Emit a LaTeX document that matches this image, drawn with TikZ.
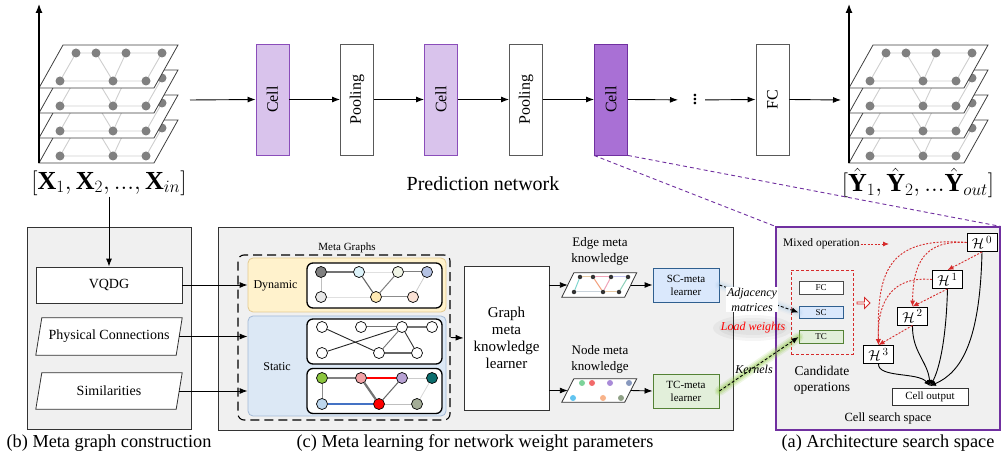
\documentclass[tikz,border=0pt]{standalone}
\usepackage{amsmath}
\usepackage{fontspec}
\setmainfont{Liberation Serif}
\usetikzlibrary{arrows.meta,shapes.arrows,calc}

\pgfdeclarelayer{panels}
\pgfdeclarelayer{frames}
\pgfsetlayers{panels,frames,main}

\definecolor{cellfill}{HTML}{D9C3EC}
\definecolor{cellline}{HTML}{8A4DBA}
\definecolor{cellhot}{HTML}{A970D5}
\definecolor{linkpurple}{HTML}{7030A0}
\definecolor{panelgray}{HTML}{F0F0F0}
\definecolor{dynfill}{HTML}{FFF2CC}
\definecolor{dynline}{HTML}{E3C98E}
\definecolor{statfill}{HTML}{DCE8F5}
\definecolor{statline}{HTML}{A3B9D6}
\definecolor{scfill}{HTML}{DAE8FC}
\definecolor{scline}{HTML}{2F5F8F}
\definecolor{tcfill}{HTML}{E2EFDA}
\definecolor{tcline}{HTML}{548235}
\definecolor{opred}{HTML}{D62A2A}
\definecolor{planenode}{HTML}{808080}
\definecolor{planeedge}{HTML}{CFCFCF}
% node colours of the meta graphs
\definecolor{nA}{HTML}{7F7F7F}
\definecolor{nB}{HTML}{DDF3FA}
\definecolor{nC}{HTML}{F1F5E6}
\definecolor{nD}{HTML}{B4C2E4}
\definecolor{nE}{HTML}{E8E8E8}
\definecolor{nF}{HTML}{FFE9B3}
\definecolor{nG}{HTML}{FBE2D5}
\definecolor{sA}{HTML}{8CC63F}
\definecolor{sB}{HTML}{F2A2A6}
\definecolor{sC}{HTML}{B8A2D4}
\definecolor{sD}{HTML}{0B6E6E}
\definecolor{sE}{HTML}{BDD7EE}
\definecolor{sF}{HTML}{FF0000}
\definecolor{sG}{HTML}{A4AD97}
\definecolor{blueedge}{HTML}{4472C4}
% colours of the knowledge sketches
\definecolor{kTan}{HTML}{E6C7A1}
\definecolor{kPink}{HTML}{F0A3B8}
\definecolor{kLav}{HTML}{C3C3EE}
\definecolor{kCyan}{HTML}{7DD5CF}
\definecolor{kGrey}{HTML}{C9D3DB}
\definecolor{kOrange}{HTML}{F3A27F}
\definecolor{kTeal}{HTML}{8ACFB8}
\definecolor{dGreen}{HTML}{7DD39A}
\definecolor{dRed}{HTML}{F26A6A}
\definecolor{dPurple}{HTML}{A98BD8}
\definecolor{dSlate}{HTML}{8899BE}
\definecolor{dCyan}{HTML}{62C4F0}
\definecolor{dPeach}{HTML}{F8B38A}
\definecolor{dOlive}{HTML}{8FA186}
\definecolor{glowblue}{HTML}{9DC3E6}
\definecolor{glowgreen}{HTML}{8CC63F}

\tikzset{
  fs/.style 2 args={font=\fontsize{#1}{#2}\selectfont},
  ifs/.style 2 args={font=\fontsize{#1}{#2}\selectfont\itshape},
}

% white parallelogram around a named node, #2 = half of the horizontal skew
\newcommand\slantframe[2]{%
  \draw[draw=black!80, fill=white, line width=0.8pt]
    ($(#1.north west)+(#2,0)$) -- ($(#1.north east)+(#2,0)$) --
    ($(#1.south east)+(-#2,0)$) -- ($(#1.south west)+(-#2,0)$) -- cycle;}

% a stack of four graph snapshots with a time axis
\newcommand\gridstack{%
  \foreach \dy in {75,50,25,0}{%
    \begin{scope}[shift={(0,\dy)}]
      \filldraw[fill=white, draw=black!75, line width=0.8pt]
        (63,45) -- (178,45) -- (154,88) -- (39,88) -- cycle;
      \draw[planeedge, line width=0.9pt] (76,53) -- (162,53) -- (146,81) -- (60,81) -- cycle;
      \draw[planeedge, line width=0.9pt] (96,53) -- (113,81) -- (126,53);
      \foreach \px/\py in {76/53,96/53,126/53,162/53,60/81,113/81,146/81}
        \fill[planenode] (\px,\py) circle (4.5);
    \end{scope}}%
  \draw[-{Latex[length=9pt,width=7pt]}, line width=1.2pt] (39,163) -- (39,4);
}

\begin{document}
\begin{tikzpicture}[x=1pt,y=-1pt,
  flow/.style={-{Latex[length=8pt,width=6pt]}, line width=0.9pt},
  cellbox/.style={draw=cellline, fill=cellfill, line width=0.9pt, minimum width=33pt,
                  minimum height=111pt, inner sep=0pt, fs={16}{18}},
  poolbox/.style={draw=black!65, fill=white, line width=0.9pt, minimum width=33pt,
                  minimum height=111pt, inner sep=0pt, fs={16}{18}},
  panel/.style={draw=black!80, fill=panelgray, line width=0.9pt, inner sep=0pt},
  plainbox/.style={draw=black!80, fill=white, line width=0.8pt, inner sep=0pt},
  gnode/.style={circle, draw=black, line width=0.7pt, minimum size=11pt, inner sep=0pt},
  gbox/.style={draw=black, line width=1.3pt, rounded corners=6pt, fill=white,
               minimum width=135pt, minimum height=45pt},
  mdot/.style={circle, fill=#1, minimum size=4.5pt, inner sep=0pt},
  kdot/.style={circle, fill=#1, minimum size=6pt, inner sep=0pt},
  learner/.style={line width=0.9pt, minimum width=66pt, minimum height=34pt, inner sep=0pt,
                  align=center, fs={11}{13}},
  opbox/.style={draw=black!70, fill=white, line width=0.9pt, minimum width=44pt,
                minimum height=12.5pt, inner sep=0pt, fs={9}{10}},
  hbox/.style={draw=black, fill=white, line width=0.9pt, minimum width=30pt,
               minimum height=18pt, inner sep=0pt, fs={15}{17}},
  reddot/.style={draw=opred, line width=0.9pt, dash pattern=on 2pt off 1.5pt,
                 -{Latex[length=6pt,width=5pt]}},
  merge/.style={line width=0.9pt, -{Latex[length=6pt,width=5pt]}},
  link/.style={line width=0.9pt, dash pattern=on 3pt off 2pt, -{Latex[length=7pt,width=5.5pt]}},
  purpledash/.style={draw=linkpurple, line width=0.9pt, dash pattern=on 4pt off 3pt},
  captext/.style={fs={18.3}{21}},
]
\useasboundingbox (0,0) rectangle (1002,462);

% ---------------- prediction network ----------------
\gridstack
\begin{scope}[shift={(810,0)}]
  \gridstack
\end{scope}

\node[fs={26}{30}, inner sep=1pt] (xin) at (109,183) {$[\mathbf{X}_1, \mathbf{X}_2, ..., \mathbf{X}_{in}]$};
\node[fs={26}{30}, inner sep=1pt] (yout) at (918,183) {$[\hat{\mathbf{Y}}_1, \hat{\mathbf{Y}}_2, ...\hat{\mathbf{Y}}_{out}]$};
\node[fs={20}{24}] (prednet) at (483,184) {Prediction network};

\coordinate (inL) at (190,100);
\node[cellbox] (cell1) at (272.5,99.5) {\rotatebox{90}{Cell}};
\node[poolbox] (pool1) at (357,99.5) {\rotatebox{90}{Pooling}};
\node[cellbox] (cell2) at (441,99.5) {\rotatebox{90}{Cell}};
\node[poolbox] (pool2) at (526,99.5) {\rotatebox{90}{Pooling}};
\node[cellbox, fill=cellhot, draw=linkpurple] (cell3) at (611,99.5) {\rotatebox{90}{Cell}};
\node[fs={16}{18}, inner sep=0pt] (dots) at (695,100) {\rotatebox{90}{\textbf{...}}};
\node[poolbox] (fc) at (772.5,99.5) {\rotatebox{90}{FC}};
\coordinate (outR) at (841,100);

\draw[flow] (inL) -- (cell1.west);
\draw[flow] (cell1.east) -- (pool1.west);
\draw[flow] (pool1.east) -- (cell2.west);
\draw[flow] (cell2.east) -- (pool2.west);
\draw[flow] (pool2.east) -- (cell3.west);
\draw[flow, shorten >=17pt] (cell3.east) -- (dots.center);
\draw[flow, shorten <=10pt] (dots.center) -- (fc.west);
\draw[flow] (fc.east) -- (outR);

% ---------------- panels ----------------
\begin{pgfonlayer}{panels}
  \node[panel, minimum width=164pt, minimum height=202pt] (panelb) at (109,328) {};
  \node[panel, minimum width=515pt, minimum height=203pt] (panelc) at (475.5,328.5) {};
  \node[panel, draw=linkpurple, line width=1.2pt, minimum width=224pt, minimum height=203pt]
    (panela) at (888,328.5) {};
\end{pgfonlayer}

\draw[purpledash] (cell3.south west) -- (panela.north west);
\draw[purpledash] (cell3.south east) -- (panela.north east);

% ---------------- (b) meta graph construction ----------------
\node[plainbox, minimum width=146pt, minimum height=36pt, fs={14}{16}] (vqdg) at (109,285) {VQDG};
\node[minimum width=140pt, minimum height=37pt, inner sep=0pt, fs={14}{16}] (phys) at (109,336.5) {Physical Connections};
\node[minimum width=140pt, minimum height=36pt, inner sep=0pt, fs={14}{16}] (simil) at (109,391) {Similarities};
\begin{pgfonlayer}{frames}
  \slantframe{phys}{3}
  \slantframe{simil}{3}
\end{pgfonlayer}
\draw[flow] (xin.south) -- (vqdg.north);

% ---------------- (c) meta learning ----------------
\node[draw=black, line width=1.1pt, dash pattern=on 9pt off 5pt, rounded corners=6pt,
      minimum width=212pt, minimum height=165pt] (mg) at (344,337.5) {};
\node[fs={11}{13}] (mglab) at (347,248) {Meta Graphs};
\node[draw=dynline, fill=dynfill, line width=0.8pt, rounded corners=5pt,
      minimum width=198pt, minimum height=54pt] (dyn) at (347,285) {};
\node[fs={12}{14}] (dynlab) at (275.5,286) {Dynamic};
\node[draw=statline, fill=statfill, line width=0.8pt, rounded corners=5pt,
      minimum width=198pt, minimum height=100pt] (stat) at (347,366) {};
\node[fs={12}{14}] (statlab) at (277,367) {Static};
\node[gbox] (g1) at (374.5,285.5) {};
\node[gbox] (g2) at (374.5,341.5) {};
\node[gbox] (g3) at (374.5,391) {};

% dynamic graph
\foreach \n/\x/\y/\c in {a1/321/272/nA, a2/359/272/nB, a3/398/272/nC, a4/427/272/nD,
                         a5/321/297/nE, a6/376/297/nF, a7/413/297/nG}
  \node[gnode, fill=\c] (\n) at (\x,\y) {};
\draw[black!55, line width=1.6pt] (a1) -- (a2);
\draw[black!12, line width=0.8pt] (a2) -- (a3);
\draw[black!50, line width=1pt] (a3) -- (a4);
\draw[black!25, line width=0.8pt] (a1) -- (a5);
\draw[black!12, line width=0.8pt] (a5) -- (a6);
\draw[black!60, line width=1.1pt] (a2) -- (a6);
\draw[black!50, line width=1pt] (a3) -- (a6);
\draw[black!45, line width=1pt] (a6) -- (a7);
\draw[black!20, line width=0.8pt] (a4) -- (a7);

% physical connection graph
\foreach \n/\x/\y in {b1/322/327, b2/361/327, b3/402/327, b4/432/327,
                      b5/322/353, b6/379/353, b7/417/353}
  \node[gnode, fill=white] (\n) at (\x,\y) {};
\draw[black!85, line width=0.9pt] (b1) -- (b6);
\draw[black!85, line width=0.9pt] (b5) -- (b3);
\draw[black!55, line width=1pt] (b2) -- (b3);
\draw[black!55, line width=1.2pt] (b3) -- (b4);
\draw[black!55, line width=0.9pt] (b3) -- (b6);
\draw[black!80, line width=0.9pt] (b3) -- (b7);
\draw[black!60, line width=1.1pt] (b6) -- (b7);

% similarity graph
\foreach \n/\x/\y/\c in {c1/322/378/sA, c2/361/378/sB, c3/402/378/sC, c4/432/378/sD,
                         c5/322/404/sE, c6/379/404/sF, c7/417/404/sG}
  \node[gnode, fill=\c] (\n) at (\x,\y) {};
\draw[black!50, line width=1.6pt] (c1) -- (c2);
\draw[red, line width=1.1pt] (c2) -- (c3);
\draw[black!20, line width=0.8pt] (c3) -- (c4);
\draw[black!45, line width=1pt] (c1) -- (c5);
\draw[blueedge, line width=1.1pt] (c5) -- (c6);
\draw[black!55, line width=2.2pt] (c2) -- (c6);
\draw[black!60, line width=1pt] (c3) -- (c6);
\draw[black!25, line width=0.9pt] (c6) -- (c7);
\draw[black!15, line width=0.8pt] (c4) -- (c7);

\draw[flow] (vqdg.east) -- (vqdg.east -| dyn.west);
\draw[flow] (phys.east) -- (phys.east -| stat.west);
\draw[flow] (simil.east) -- (simil.east -| stat.west);

\node[plainbox, minimum width=85pt, minimum height=144pt, align=center, fs={15}{17}]
  (gmkl) at (506.5,338) {Graph\\meta\\knowledge\\learner};
\draw[flow] (mg.east) -- (gmkl.west);

% edge meta knowledge
\node[fs={13}{16}, align=center] (emklab) at (600,251) {Edge meta\\knowledge};
\node[minimum width=62.5pt, minimum height=24pt, inner sep=0pt] (emk) at (599.25,285) {};
\foreach \n/\x/\y in {e1/580/277, e2/593/277, e3/611/277, e4/628/277, e5/574/292, e6/603/292, e7/619/292}
  \node[mdot=black!80] (\n) at (\x,\y) {};
\draw[line width=1pt, kTan] (e1) -- (e2);
\draw[line width=1pt, kPink] (e2) -- (e3);
\draw[line width=1pt, kLav] (e3) -- (e4);
\draw[line width=1pt, kCyan] (e1) -- (e5);
\draw[line width=1pt, kGrey] (e5) -- (e6);
\draw[line width=1pt, kTan] (e6) -- (e7);
\draw[line width=1pt, kOrange] (e2) -- (e6);
\draw[line width=1pt, kPink] (e3) -- (e6);
\draw[line width=1pt, kTeal] (e4) -- (e7);

% node meta knowledge
\node[fs={13}{16}, align=center] (nmklab) at (600,359) {Node meta\\knowledge};
\node[minimum width=62.5pt, minimum height=23pt, inner sep=0pt] (nmk) at (599.25,390.5) {};
\foreach \n/\x/\y/\c in {f1/582/383/dGreen, f2/592/383/dRed, f3/610/383/dPurple, f4/629/383/dSlate,
                         f5/573/398/dCyan, f6/603/398/dPeach, f7/621/398/dOlive}
  \node[kdot=\c] (\n) at (\x,\y) {};

\begin{pgfonlayer}{frames}
  \slantframe{emk}{6}
  \slantframe{nmk}{6}
\end{pgfonlayer}

\node[learner, draw=scline, fill=scfill] (scm) at (686,285) {SC-meta\\learner};
\node[learner, draw=tcline, fill=tcfill] (tcm) at (686,391) {TC-meta\\learner};

\draw[flow] (gmkl.east |- emk.west) -- (emk.west);
\draw[flow] (gmkl.east |- nmk.west) -- (nmk.west);
\draw[flow] (emk.east) -- (scm.west);
\draw[flow] (nmk.east) -- (tcm.west);

% ---------------- (a) architecture search space ----------------
\node[fs={11.5}{13}, anchor=west, inner sep=1pt] (mixlab) at (782,244) {Mixed operation};
\coordinate (mixtip) at (889,244);
\draw[reddot] (mixlab.east) -- (mixtip);

\node[draw=opred, dash pattern=on 3pt off 2pt, line width=0.9pt, minimum width=62pt,
      minimum height=84pt] (cand) at (822,312) {};
\node[opbox] (opfc) at (821,288) {FC};
\node[opbox, fill=scfill, draw=scline] (opsc) at (821,312.5) {SC};
\node[opbox, fill=tcfill, draw=tcline] (optc) at (821,337) {TC};
\node[fs={13.5}{16}, align=center] (candlab) at (822,380) {Candidate\\operations};
\node[single arrow, draw=opred, fill=white, line width=0.8pt, minimum height=13pt,
      minimum width=11pt, single arrow head extend=2pt, inner sep=0pt] (hollow) at (863,303) {};

\node[hbox] (h0) at (982,242.5) {$\mathcal{H}^{\,0}$};
\node[hbox] (h1) at (947.5,279.5) {$\mathcal{H}^{\,1}$};
\node[hbox] (h2) at (912.5,316) {$\mathcal{H}^{\,2}$};
\node[hbox] (h3) at (878.5,354.5) {$\mathcal{H}^{\,3}$};
\node[draw=black!80, fill=white, line width=0.9pt, minimum width=76pt, minimum height=17pt,
      inner sep=0pt, fs={11}{13}] (cout) at (930,396.5) {Cell output};
\coordinate (join) at (930,386);
\node[fs={12.5}{15}] (csslab) at (888,418) {Cell search space};

\draw[merge] (h0.south) .. controls (980,340) and (962,372) .. (join);
\draw[merge] (h1.south) .. controls (946,345) and (938,372) .. (join);
\draw[merge] (h2.south) .. controls (912,352) and (928,362) .. (join);
\draw[merge] (h3.south) .. controls (878,378) and (918,372) .. (join);

\draw[reddot] (h0.south) -- (h1.north);
\draw[reddot] (h1.south) -- (h2.north);
\draw[reddot] (h2.south) -- (h3.north);
\draw[reddot] (h0.west) .. controls (925,240) and (913,262) .. (h2.north);
\draw[reddot] (h0.west) .. controls (885,236) and (877,275) .. (h3.north);
\draw[reddot] (h1.west) .. controls (893,276) and (877,300) .. (h3.north);

% ---------------- weights handed to the candidate operations ----------------
\foreach \w/\o in {10/0.08, 7/0.12, 4/0.18}
  \draw[glowblue, line width=\w pt, opacity=\o, line cap=round] (scm.east) -- (opsc.west);
\foreach \w/\o in {10/0.14, 7/0.2, 4/0.3}
  \draw[glowgreen, line width=\w pt, opacity=\o, line cap=round] (tcm.east) -- (optc.west);
\draw[link] (scm.east) -- (opsc.west);
\draw[link] (tcm.east) -- (optc.west);

\foreach \rx/\ry in {40/13, 34/10, 28/7}
  \fill[black, opacity=0.04] (753,328) ellipse ({\rx} and {\ry});
\node[ifs={12}{15}, align=center, fill=white, inner sep=1pt] (adjlab) at (752,299.5) {Adjacency\\matrices};
\node[ifs={12}{14}, text=red, inner sep=1pt] (lwlab) at (753,328) {Load weights};
\node[ifs={12}{14}, inner sep=1pt] (kerlab) at (754,369) {Kernels};

% ---------------- captions ----------------
\node[captext] (capb) at (109,443) {(b) Meta graph construction};
\node[captext] (capc) at (475,443) {(c) Meta learning for network weight parameters};
\node[captext] (capa) at (888,443) {(a) Architecture search space};
\end{tikzpicture}
\end{document}
